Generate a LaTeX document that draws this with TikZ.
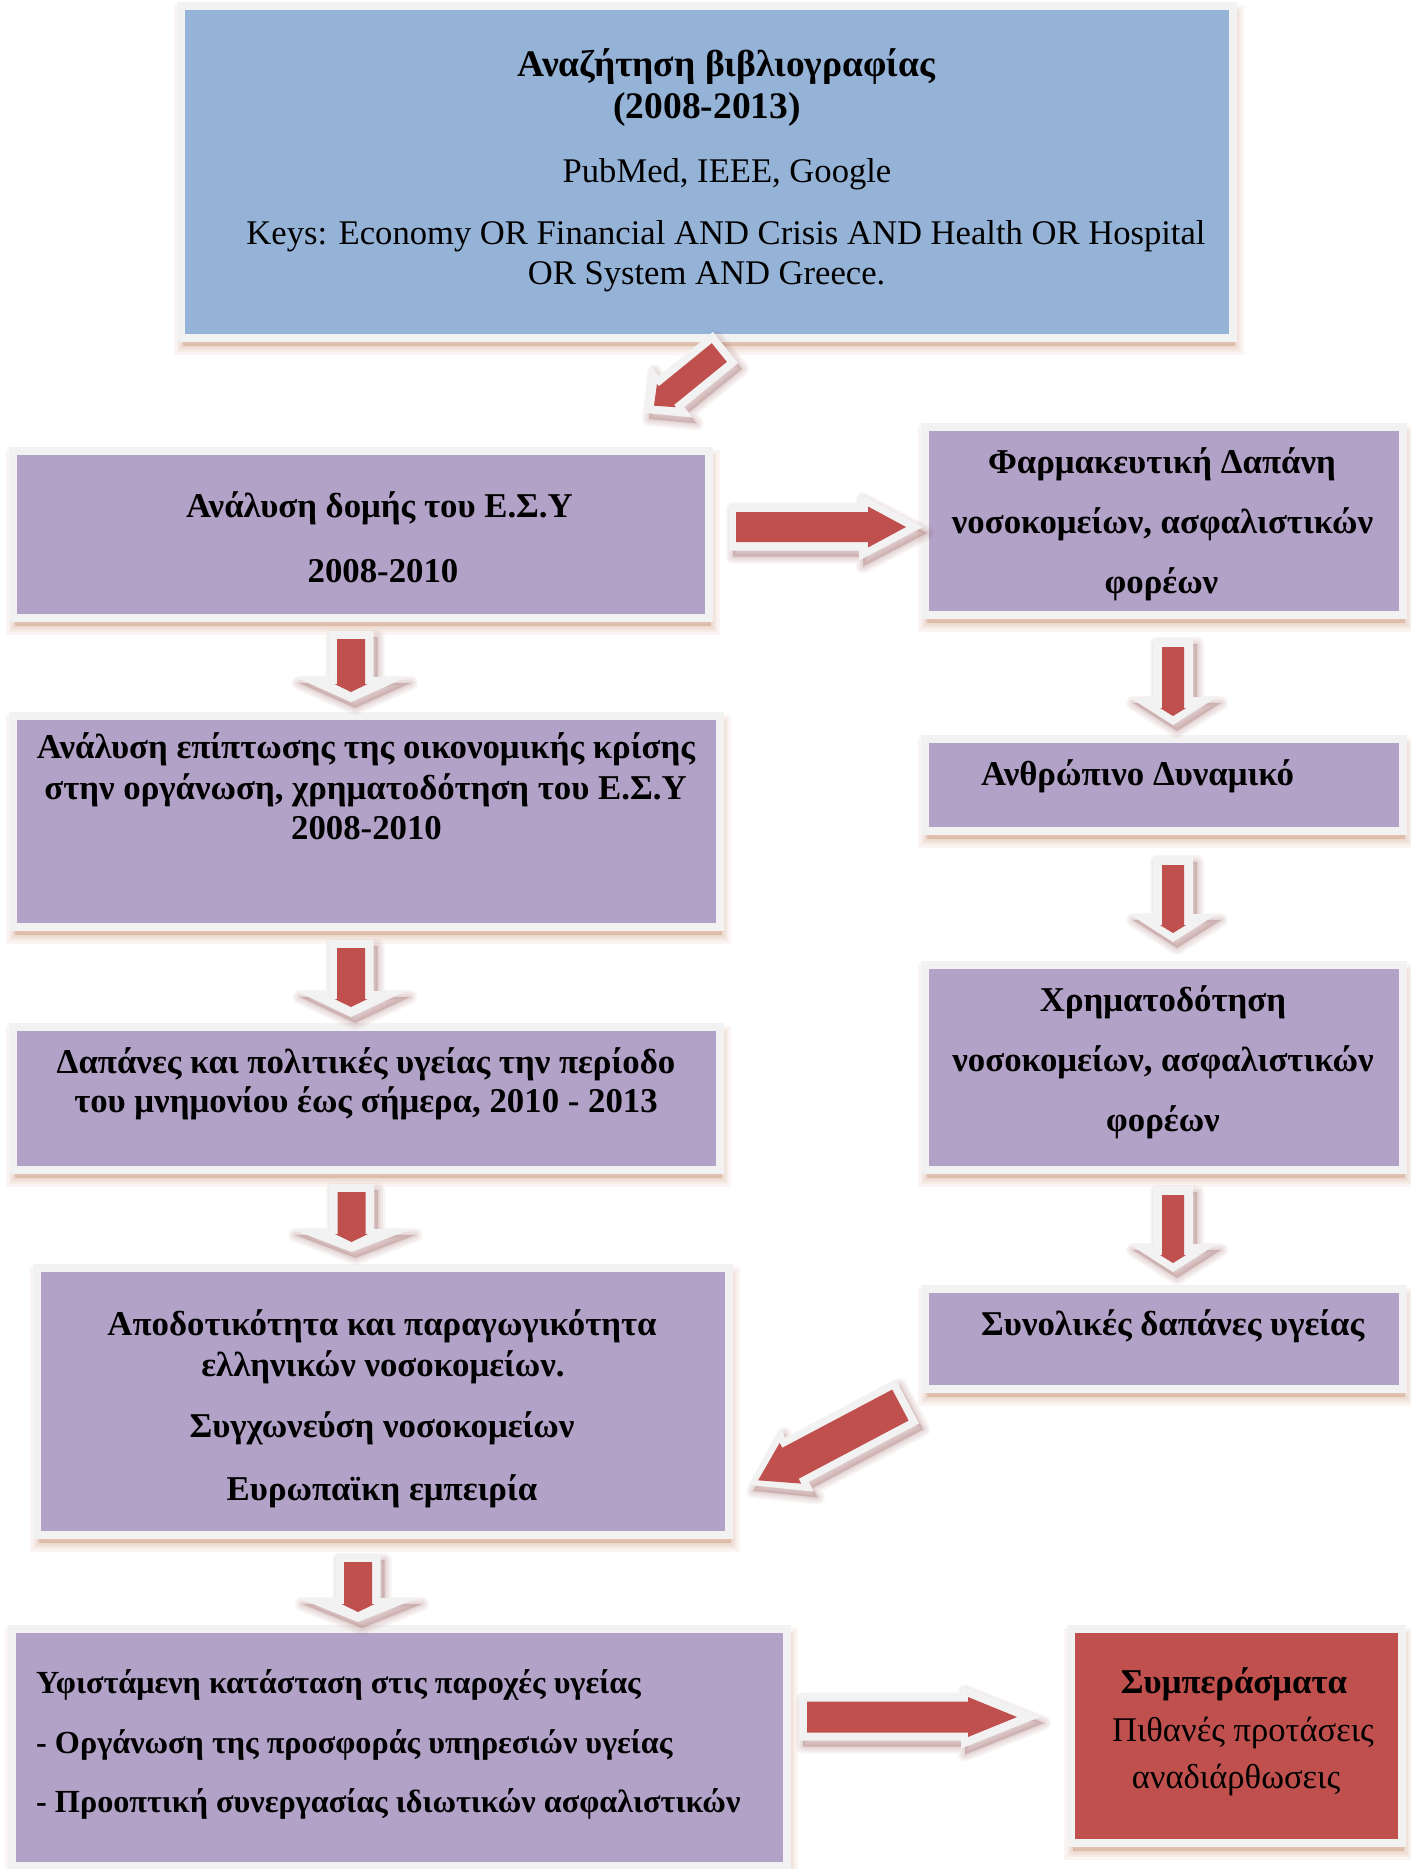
\documentclass[tikz,border=0pt]{standalone}
\usepackage{fontspec}
\setmainfont{Liberation Serif}
\usetikzlibrary{calc,fit}

\definecolor{purp}{HTML}{B2A2C7}
\definecolor{blu}{HTML}{95B3D7}
\definecolor{redc}{HTML}{C0504D}
\definecolor{edgec}{HTML}{F2F2F2}
\definecolor{bsh}{RGB}{190,120,80}
\definecolor{ash}{RGB}{140,70,70}

\pgfdeclarelayer{bg}
\pgfsetlayers{bg,main}

\pgfkeys{/ba/.cd,
  sw/.store in=\baSW, hw/.store in=\baHW, hl/.store in=\baHL,
  rin/.store in=\baRin, rout/.store in=\baRout,
  rsw/.store in=\baRSW, rhw/.store in=\baRHW, rhl/.store in=\baRHL}

\newcommand\baWP[1]{#1 (0pt,-\baSW pt) -- (\baWB pt,-\baSW pt) -- (\baWB pt,-\baHW pt) -- (\baLenG pt,0pt) -- (\baWB pt,\baHW pt) -- (\baWB pt,\baSW pt) -- (0pt,\baSW pt) -- cycle;}
\newcommand\baRP[1]{#1 (\baRin pt,-\baRSW pt) -- (\baRB pt,-\baRSW pt) -- (\baRB pt,-\baRHW pt) -- (\baRE pt,0pt) -- (\baRB pt,\baRHW pt) -- (\baRB pt,\baRSW pt) -- (\baRin pt,\baRSW pt) -- cycle;}

\newcommand\blockarrow[3][]{%
  \pgfkeys{/ba/.cd,#1}%
  \path let \p1=(#2), \p2=(#3) in \pgfextra{%
    \pgfmathsetmacro\baAng{atan2(\y2-\y1,\x2-\x1)}%
    \pgfmathsetmacro\baLen{veclen(\x2-\x1,\y2-\y1)}%
    \global\let\baAngG\baAng \global\let\baLenG\baLen};
  \pgfmathsetmacro\baWB{\baLenG-\baHL}%
  \pgfmathsetmacro\baRE{\baLenG-\baRout}%
  \pgfmathsetmacro\baRB{\baRE-\baRHL}%
  \begin{scope}[shift={(#2)},shift={(4pt,-6pt)},rotate=\baAngG]
    \baWP{\fill[ash,opacity=.25]}
    \foreach \lw in {3,6,10,14}{\baWP{\draw[ash,opacity=.06,line width=\lw pt,line join=round]}}
  \end{scope}
  \begin{scope}[shift={(#2)},rotate=\baAngG]
    \baWP{\fill[edgec]}
    \baRP{\fill[redc]}
  \end{scope}}

\newcommand\boxshadow[1]{%
  \begin{pgfonlayer}{bg}
  \fill[bsh,opacity=.3] ($(#1.north west)+(2,8)$) rectangle ($(#1.south east)+(2,8)$);
  \foreach \lw in {4,8,12,18}{
    \draw[bsh,opacity=.07,line width=\lw pt] ($(#1.north west)+(2,8)$) rectangle ($(#1.south east)+(2,8)$);}
  \end{pgfonlayer}}

\tikzset{
  boxbase/.style={draw=edgec, line width=8pt, inner sep=0pt, outer sep=0pt},
  pbox/.style={boxbase, fill=purp},
  bbox/.style={boxbase, fill=blu},
  rbox/.style={boxbase, fill=redc},
  bt/.style={font=\fontsize{34.8}{40}\selectfont\bfseries, inner sep=0pt, anchor=base},
  bigbt/.style={font=\fontsize{37.5}{44}\selectfont\bfseries, inner sep=0pt, anchor=base},
  rt/.style={font=\fontsize{34.6}{40}\selectfont, inner sep=0pt, anchor=base},
  btl/.style={bt, anchor=base west},
  smbtl/.style={font=\fontsize{32.2}{38}\selectfont\bfseries, inner sep=0pt, anchor=base west}
}

\begin{document}
\begin{tikzpicture}[x=1pt,y=-1pt]
\useasboundingbox (0,0) rectangle (1411,1869);
\begin{pgfonlayer}{bg}
\fill[white] (0,0) rectangle (1411,1869);
\end{pgfonlayer}

% boxes
\node[bbox, fit={(181,6) (1233,337.5)}] (top) {};
\node[pbox, fit={(12.5,450.5) (709,617.5)}] (l1) {};
\node[pbox, fit={(12.5,716) (719.5,927)}] (l2) {};
\node[pbox, fit={(12.5,1027) (719.5,1170)}] (l3) {};
\node[pbox, fit={(36.5,1267.5) (728.5,1534.5)}] (l4) {};
\node[pbox, fit={(12,1628.5) (786.5,1866)}] (l5) {};
\node[pbox, fit={(925,427) (1402.5,614.5)}] (r1) {};
\node[pbox, fit={(925,739) (1402.5,831)}] (r2) {};
\node[pbox, fit={(925,965) (1402.5,1170)}] (r3) {};
\node[pbox, fit={(925,1289) (1402.5,1388.5)}] (r4) {};
\node[rbox, fit={(1070.5,1628.5) (1401.5,1843)}] (res) {};
\foreach \b in {top,l1,l2,l3,l4,l5,r1,r2,r3,r4,res}{\boxshadow{\b}}

% texts
\node[bigbt] (t1) at (726.5,76) {Αναζήτηση βιβλιογραφίας};
\node[bigbt] (t2) at (707,118) {(2008-2013)};
\node[rt] (t3) at (727,182) {PubMed, IEEE, Google};
\node[rt] (t4) at (726,244) {Keys: Economy OR Financial AND Crisis AND Health OR Hospital};
\node[rt] (t5) at (706.6,284.5) {OR System AND Greece.};

\node[bt] (l1a) at (379.5,517) {Ανάλυση δομής του Ε.Σ.Υ};
\node[bt] (l1b) at (383,582) {2008-2010};

\node[bt] (l2a) at (366,758) {Ανάλυση επίπτωσης της οικονομικής κρίσης};
\node[bt] (l2b) at (365.5,799) {στην οργάνωση, χρηματοδότηση του Ε.Σ.Υ};
\node[bt] (l2c) at (366.5,839) {2008-2010};

\node[bt] (l3a) at (366,1073) {Δαπάνες και πολιτικές υγείας την περίοδο};
\node[bt] (l3b) at (366,1112) {του μνημονίου έως σήμερα, 2010 - 2013};

\node[bt] (l4a) at (382,1335) {Αποδοτικότητα και παραγωγικότητα};
\node[bt] (l4b) at (383,1376) {ελληνικών νοσοκομείων.};
\node[bt] (l4c) at (382,1437) {Συγχωνεύση νοσοκομείων};
\node[bt] (l4d) at (382,1500) {Ευρωπαϊκη εμπειρία};

\node[smbtl] (l5a) at (36,1693) {Υφιστάμενη κατάσταση στις παροχές υγείας};
\node[smbtl] (l5b) at (36,1753) {- Οργάνωση της προσφοράς υπηρεσιών υγείας};
\node[smbtl] (l5c) at (36,1812) {- Προοπτική συνεργασίας ιδιωτικών ασφαλιστικών};

\node[bt] (r1a) at (1162,473) {Φαρμακευτική Δαπάνη};
\node[bt] (r1b) at (1162.5,533) {νοσοκομείων, ασφαλιστικών};
\node[bt] (r1c) at (1161.5,593) {φορέων};

\node[btl] (r2a) at (981,785) {Ανθρώπινο Δυναμικό};

\node[bt] (r3a) at (1163,1011) {Χρηματοδότηση};
\node[bt] (r3b) at (1163,1071) {νοσοκομείων, ασφαλιστικών};
\node[bt] (r3c) at (1163,1131) {φορέων};

\node[btl] (r4a) at (981,1335) {Συνολικές δαπάνες υγείας};

\node[bt] (s1) at (1234,1693) {Συμπεράσματα};
\node[rt] (s2) at (1243,1741) {Πιθανές προτάσεις};
\node[rt] (s3) at (1236,1788) {αναδιάρθωσεις};

% arrow end points
\coordinate (aA1) at (725.5,347.5); \coordinate (aA2) at (645,413);
\coordinate (aB1) at (729,527);     \coordinate (aB2) at (923,527);
\coordinate (aC1) at (907.5,1401.3); \coordinate (aC2) at (749.3,1485);
\coordinate (aD1) at (799,1717);    \coordinate (aD2) at (1040,1717);
\coordinate (d11) at (351,631);     \coordinate (d12) at (351,702);
\coordinate (d21) at (351,940);     \coordinate (d22) at (351,1017);
\coordinate (d31) at (351.5,1184);  \coordinate (d32) at (351.5,1252);
\coordinate (d41) at (358,1554);    \coordinate (d42) at (358,1622);
\coordinate (e11) at (1173,638);    \coordinate (e12) at (1173,725);
\coordinate (e21) at (1173,856);    \coordinate (e22) at (1173,942);
\coordinate (e31) at (1173,1186);   \coordinate (e32) at (1173,1272);

% arrows
\blockarrow[sw=20,hw=33.5,hl=34,rin=8,rout=11.5,rsw=12,rhw=15,rhl=16]{aA1}{aA2}
\blockarrow[sw=23.5,hw=33.5,hl=64,rin=7,rout=17,rsw=15,rhw=20.5,rhl=38]{aB1}{aB2}
\blockarrow[sw=25,hw=36,hl=54,rin=8,rout=10,rsw=17.5,rhw=23,rhl=36.5]{aC1}{aC2}
\blockarrow[sw=23.5,hw=31.5,hl=79,rin=8,rout=23,rsw=15.5,rhw=20,rhl=49]{aD1}{aD2}
\blockarrow[sw=22.5,hw=56,hl=25,rin=8,rout=10,rsw=14,rhw=16.5,rhl=8]{d11}{d12}
\blockarrow[sw=22.5,hw=55,hl=26,rin=8,rout=10,rsw=14,rhw=16.5,rhl=8]{d21}{d22}
\blockarrow[sw=22.5,hw=60,hl=23,rin=8,rout=10,rsw=14,rhw=16.5,rhl=8]{d31}{d32}
\blockarrow[sw=22.5,hw=60,hl=24,rin=8,rout=10,rsw=14,rhw=16.5,rhl=8]{d41}{d42}
\blockarrow[sw=20,hw=44,hl=28,rin=9,rout=9,rsw=11,rhw=13,rhl=8]{e11}{e12}
\blockarrow[sw=20,hw=44,hl=28,rin=9,rout=9,rsw=11,rhw=13,rhl=8]{e21}{e22}
\blockarrow[sw=20,hw=44,hl=28,rin=9,rout=9,rsw=11,rhw=13,rhl=8]{e31}{e32}
\end{tikzpicture}
\end{document}
